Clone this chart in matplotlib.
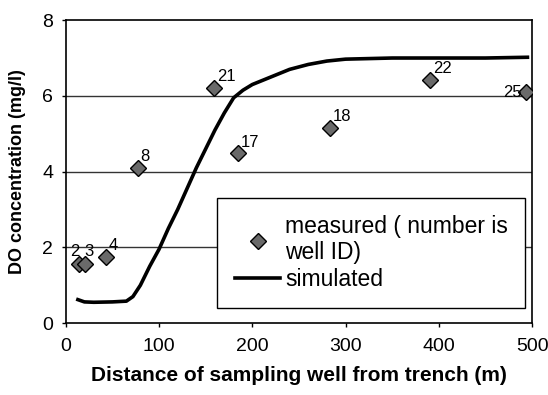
import matplotlib
matplotlib.use("Agg")
import matplotlib.pyplot as plt

# measured wells
well_ids = ["2", "3", "4", "8", "21", "17", "18", "22", "25"]
well_dist = [14, 21, 43, 77, 159, 185, 283, 391, 493]
well_do = [1.57, 1.57, 1.74, 4.09, 6.22, 4.48, 5.15, 6.43, 6.10]

# simulated profile
sim_dist = [13, 20, 30, 50, 65, 72, 80, 90, 100, 110, 120, 130, 140, 150,
            160, 170, 180, 190, 200, 220, 240, 260, 280, 300, 350, 400, 450, 495]
sim_do = [0.62, 0.56, 0.55, 0.56, 0.58, 0.70, 1.0, 1.5, 1.95, 2.5, 3.0, 3.55,
          4.1, 4.6, 5.1, 5.55, 5.95, 6.15, 6.3, 6.5, 6.7, 6.83, 6.92, 6.97,
          7.0, 7.0, 7.0, 7.02]

plt.rcParams["font.family"] = ["Liberation Sans", "DejaVu Sans"]

fig = plt.figure(figsize=(5.48, 3.95), dpi=100)
ax = fig.add_axes([0.120, 0.182, 0.851, 0.767])

ax.set_xlim(0, 500)
ax.set_ylim(0, 8)
ax.set_xticks([0, 100, 200, 300, 400, 500])
ax.set_yticks([0, 2, 4, 6, 8])
ax.tick_params(labelsize=14, length=3, width=1, direction="out")
ax.tick_params(axis="x", pad=8)
ax.tick_params(axis="y", pad=6)
for s in ax.spines.values():
    s.set_linewidth(1.2)

for yv in [2, 4, 6]:
    ax.axhline(yv, color="#333333", lw=1.0, zorder=1)

ax.plot(sim_dist, sim_do, color="black", lw=2.6, zorder=2, label="simulated")
ax.plot(well_dist, well_do, ls="none", marker="D", ms=8, mfc="#6a6a6a",
        mec="black", mew=1.0, zorder=3, label="measured ( number is\nwell ID)")

for wid, x, y in zip(well_ids, well_dist, well_do):
    if wid == "25":
        ax.text(x - 4, y, wid, fontsize=12, ha="right", va="center", zorder=4)
    elif wid == "2":
        ax.text(x - 4, y + 0.13, wid, fontsize=12, ha="center", va="bottom", zorder=4)
    elif wid == "3":
        ax.text(x + 4, y + 0.13, wid, fontsize=12, ha="center", va="bottom", zorder=4)
    else:
        ax.text(x + 3, y + 0.1, wid, fontsize=12, ha="left", va="bottom", zorder=4)

handles, labels = ax.get_legend_handles_labels()
leg = ax.legend(handles[::-1], labels[::-1], loc="lower right",
                bbox_to_anchor=(0.985, 0.05), borderaxespad=0,
                fontsize=16.5, frameon=True,
                fancybox=False, edgecolor="black", framealpha=1,
                handlelength=2.0, handletextpad=0.2, borderpad=0.75,
                labelspacing=0.15)
leg.get_frame().set_linewidth(1.0)

ax.set_xlabel("Distance of sampling well from trench (m)", fontsize=15,
              fontweight="bold", labelpad=8)
ax.set_ylabel("DO concentration (mg/l)", fontsize=13, fontweight="bold",
              labelpad=12)

fig.savefig("out.png", dpi=100)
